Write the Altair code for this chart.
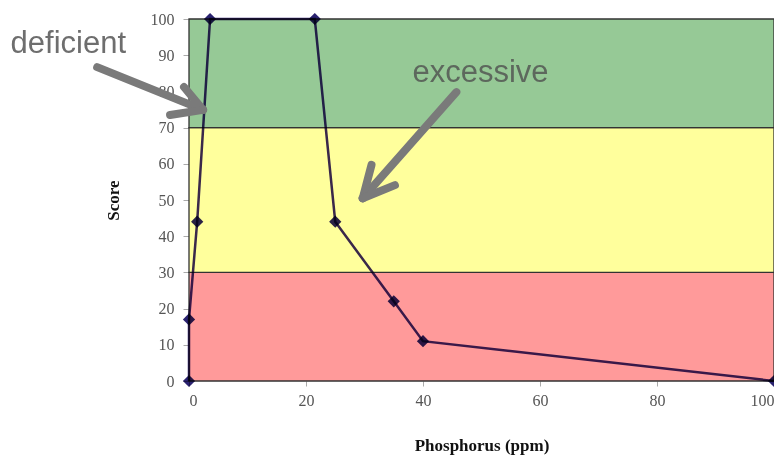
import altair as alt
import pandas as pd

# Data series
phosphorus = [0, 0, 1.4, 3.6, 21.5, 25, 35, 40, 100]
score = [0, 17, 44, 100, 100, 44, 22, 11, 0]

# Score bands
band_low = [0, 30, 70]
band_high = [30, 70, 100]
band_color = ["#ff9a9a", "#ffff9c", "#96c996"]
band_name = ["low", "mid", "high"]

# Annotation arrows (data units): segments
arrow_x = [-15.7, 2.4, -0.85, 2.4, -3.24, 2.4, 45.7, 29.7, 31.2, 29.7, 35.2, 29.7]
arrow_y = [86.7, 74.9, 81.2, 74.9, 73.5, 74.9, 79.8, 50.5, 59.7, 50.5, 54.1, 50.5]

# Annotation labels
label_text = ["deficient", "excessive"]
label_x = [-30.5, 38.2]
label_y = [90.6, 82.6]

x_ticks = [0, 20, 40, 60, 80, 100]
y_ticks = list(range(0, 101, 10))

xdom = [0, 100]
ydom = [0, 100]

xs = alt.Scale(domain=xdom, nice=False, zero=False)
ys = alt.Scale(domain=ydom, nice=False, zero=False)

df = pd.DataFrame({"P": phosphorus, "S": score, "order": list(range(len(score)))})
bands = pd.DataFrame({"lo": band_low, "hi": band_high, "c": band_color, "name": band_name,
                      "x0": [xdom[0]] * 3, "x1": [xdom[1]] * 3})
segs = pd.DataFrame({
    "x": arrow_x[0::2], "y": arrow_y[0::2],
    "x2": arrow_x[1::2], "y2": arrow_y[1::2],
})
labels = pd.DataFrame({"t": label_text, "x": label_x, "y": label_y,
                       "col": ["#6e6e6e", "#5d685d"]})

xaxis = alt.Axis(values=x_ticks, grid=False, domain=False, labelOverlap=False,
                 tickColor="#aaaaaa", tickSize=5, labelFont="Liberation Serif",
                 labelFontSize=16, labelColor="#555555", labelPadding=6,
                 title="Phosphorus (ppm)", titleFont="Liberation Serif",
                 titleFontSize=17, titleFontWeight="bold", titleColor="#111111",
                 titlePadding=29)
yaxis = alt.Axis(values=y_ticks, grid=False, domain=False, labelOverlap=False,
                 tickColor="#aaaaaa", tickSize=6, labelFont="Liberation Serif",
                 labelFontSize=16, labelColor="#555555", labelPadding=9,
                 title="Score", titleFont="Liberation Serif", titleFontSize=17,
                 titleFontWeight="bold", titleColor="#111111", titlePadding=28)

X = lambda f: alt.X(f, scale=xs, axis=xaxis)
Y = lambda f: alt.Y(f, scale=ys, axis=yaxis)

band_layer = alt.Chart(bands).mark_rect(stroke="#333333", strokeWidth=1.3).encode(
    x=X("x0:Q"),
    x2="x1:Q",
    y=Y("lo:Q"),
    y2="hi:Q",
    color=alt.Color("c:N", scale=None),
)

line_layer = alt.Chart(df).mark_line(color="#3a2878", strokeWidth=2.5, blend="multiply").encode(
    x=X("P:Q"),
    y=Y("S:Q"),
    order="order:Q",
)

point_layer = alt.Chart(df).mark_point(shape="diamond", filled=True, size=150,
                                       color="#2a2270", opacity=1, blend="multiply").encode(
    x=X("P:Q"),
    y=Y("S:Q"),
)

arrow_layer = alt.Chart(segs).mark_rule(color="#7a7a7a", strokeWidth=8, strokeCap="round").encode(
    x=X("x:Q"),
    y=Y("y:Q"),
    x2="x2:Q",
    y2="y2:Q",
)

text_layer = alt.Chart(labels).mark_text(font="Liberation Sans", fontSize=31,
                                         align="left", baseline="alphabetic").encode(
    x=X("x:Q"),
    y=Y("y:Q"),
    text="t:N",
    color=alt.Color("col:N", scale=None),
)

chart = alt.layer(band_layer, line_layer, point_layer, arrow_layer, text_layer).properties(
    width=585,
    height=362,
    autosize=alt.AutoSizeParams(type="none"),
    padding={"left": 181, "top": 11, "right": 0, "bottom": 74},
    background="white",
).configure_view(stroke=None)

chart.save("out.html", embed_options={"renderer": "svg", "actions": False})
